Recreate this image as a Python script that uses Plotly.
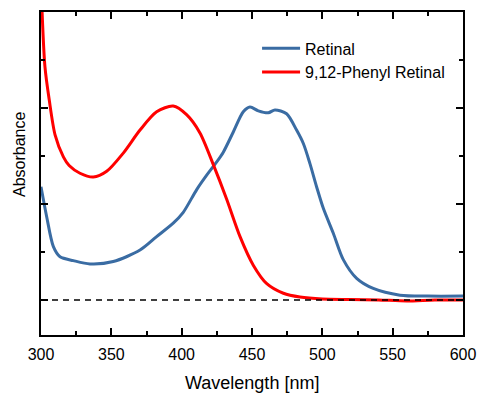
import plotly.graph_objects as go

# Retinal (blue)
ret_wl = [300, 304, 308.8, 313.5, 323, 334.8, 351.4, 370.4, 382.2, 394, 401, 410.7, 417.8, 424, 429.6,
          436.7, 443.8, 448.6, 454.5, 461.6, 466.3, 474.6, 481.7, 486.5, 491.2, 495.9, 500.7, 507.8,
          514.9, 524.4, 536.2, 555.2, 575, 600]
ret_abs = [1.18, 0.87, 0.555, 0.45, 0.41, 0.375, 0.40, 0.52, 0.66, 0.80, 0.91, 1.15, 1.30, 1.42, 1.54,
           1.75, 1.96, 2.01, 1.97, 1.95, 1.98, 1.94, 1.77, 1.63, 1.42, 1.18, 0.955, 0.695,
           0.42, 0.225, 0.12, 0.05, 0.04, 0.04]

# 9,12-Phenyl Retinal (red)
phe_wl = [300, 302.8, 305.9, 310, 315.9, 320, 327.7, 337.2, 346.7, 358.5, 370.4, 382.2, 394, 403.5,
          413, 422.5, 432, 441.5, 451, 460.5, 472.3, 484.1, 500, 520, 540, 560, 580, 600]
phe_abs = [3.3, 2.43, 2.08, 1.72, 1.49, 1.40, 1.32, 1.28, 1.34, 1.53, 1.77, 1.96, 2.02, 1.93,
           1.74, 1.41, 1.05, 0.66, 0.36, 0.17, 0.07, 0.03, 0.01, 0.005, 0.0, -0.01, 0.0, 0.0]

x_title = "Wavelength [nm]"
y_title = "Absorbance"

fig = go.Figure()
fig.add_trace(go.Scatter(x=ret_wl, y=ret_abs, mode="lines", name="Retinal",
                         line=dict(color="#3a6ca3", width=3, shape="spline", smoothing=0.8)))
fig.add_trace(go.Scatter(x=phe_wl, y=phe_abs, mode="lines", name="9,12-Phenyl Retinal",
                         line=dict(color="#ff0000", width=3, shape="spline", smoothing=0.8)))

fig.add_shape(type="line", xref="x", yref="y", x0=300, x1=600, y0=0, y1=0,
              line=dict(color="black", width=1.6, dash="6px,5px"), layer="above")

fig.add_annotation(text=x_title, xref="paper", yref="paper", x=0.5, y=-0.1486,
                   xanchor="center", yanchor="middle", showarrow=False,
                   font=dict(size=18, color="black"))
fig.add_annotation(text=y_title, xref="paper", yref="paper", x=-0.0498, y=0.5604,
                   xanchor="center", yanchor="middle", showarrow=False, textangle=-90,
                   font=dict(size=16, color="black"))

fig.update_layout(
    width=478, height=396,
    margin=dict(l=41, r=15, t=12, b=61, autoexpand=False),
    plot_bgcolor="white", paper_bgcolor="white",
    font=dict(family="Liberation Sans, Arial, sans-serif", color="black", size=16),
    showlegend=True,
    legend=dict(x=0.512, y=0.94, xanchor="left", yanchor="top", bgcolor="rgba(0,0,0,0)",
                font=dict(size=16), tracegroupgap=0, itemwidth=38),
)
fig.update_xaxes(
    range=[300, 600], dtick=50, tick0=300, automargin=False,
    showline=True, linecolor="black", linewidth=2, mirror="ticks",
    ticks="inside", ticklen=7, tickwidth=1.5, tickcolor="black",
    minor=dict(ticks="inside", dtick=25, ticklen=4, tickwidth=1.5, tickcolor="black"),
    showgrid=False, zeroline=False,
    tickfont=dict(size=16), ticklabelstandoff=4,
)
fig.update_yaxes(
    range=[-0.365, 3.0], dtick=1, tick0=0, automargin=False,
    showline=True, linecolor="black", linewidth=2, mirror="ticks",
    ticks="inside", ticklen=7, tickwidth=1.5, tickcolor="black",
    minor=dict(ticks="inside", dtick=0.5, ticklen=4, tickwidth=1.5, tickcolor="black"),
    showticklabels=False, showgrid=False, zeroline=False,
)

fig.write_html("out.html")
